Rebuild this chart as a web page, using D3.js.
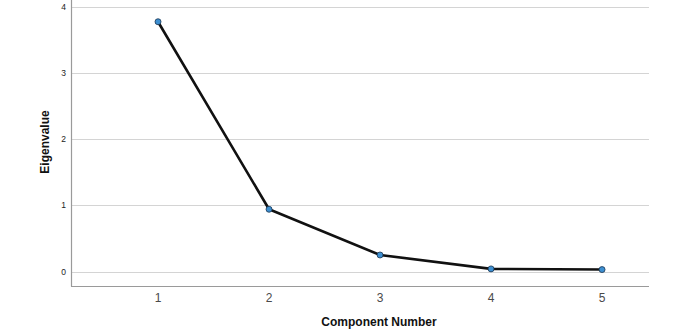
<!DOCTYPE html>
<html>
<head>
<meta charset="utf-8">
<script src="https://cdn.jsdelivr.net/npm/d3@7"></script>
<style>
  body { margin: 0; background: #fff; }
  svg { display: block; font-family: Arial, "Liberation Sans", sans-serif; }
  .grid line { stroke: #d4d4d4; stroke-width: 1.2px; }
  .axis-line { stroke: #9a9a9a; stroke-width: 1.2px; }
  .ytick { font-size: 8.5px; fill: #222; }
  .xtick { font-size: 12px; fill: #4a4a4a; }
  .title { font-size: 12px; font-weight: bold; fill: #111; }
</style>
</head>
<body>
<svg id="chart" width="683" height="333"></svg>
<script>
// Scree plot values
const components = [1, 2, 3, 4, 5];
const eigenvalues = [3.77, 0.94, 0.25, 0.04, 0.03];
const yTicks = [0, 1, 2, 3, 4];

const svg = d3.select('#chart');
const plot = { left: 71, right: 649, top: 0, bottom: 286 };

const x = d3.scaleLinear().domain([0.216, 5.423]).range([plot.left, plot.right]);
const y = d3.scaleLinear().domain([-0.218, 4]).range([plot.bottom, 6.5]);

// horizontal gridlines
svg.append('g').attr('class', 'grid')
  .selectAll('line')
  .data(yTicks)
  .join('line')
  .attr('x1', plot.left)
  .attr('x2', plot.right)
  .attr('y1', d => Math.round(y(d)) + 0.5)
  .attr('y2', d => Math.round(y(d)) + 0.5);

// axis frame (left + bottom)
svg.append('line').attr('class', 'axis-line')
  .attr('x1', plot.left + 0.5).attr('x2', plot.left + 0.5)
  .attr('y1', plot.top).attr('y2', plot.bottom + 0.5);
svg.append('line').attr('class', 'axis-line')
  .attr('x1', plot.left).attr('x2', plot.right)
  .attr('y1', plot.bottom + 0.5).attr('y2', plot.bottom + 0.5);

// y tick labels
svg.append('g')
  .selectAll('text')
  .data(yTicks)
  .join('text')
  .attr('class', 'ytick')
  .attr('x', plot.left - 5)
  .attr('y', d => y(d) + 3)
  .attr('text-anchor', 'end')
  .text(d => d);

// x tick labels
svg.append('g')
  .selectAll('text')
  .data(components)
  .join('text')
  .attr('class', 'xtick')
  .attr('x', d => x(d))
  .attr('y', 302)
  .attr('text-anchor', 'middle')
  .text(d => d);

// axis titles
svg.append('text').attr('class', 'title')
  .attr('x', 379).attr('y', 326)
  .attr('text-anchor', 'middle')
  .text('Component Number');
svg.append('text').attr('class', 'title')
  .attr('transform', 'translate(49,142) rotate(-90)')
  .attr('text-anchor', 'middle')
  .text('Eigenvalue');

const pts = components.map((c, i) => ({ c, v: eigenvalues[i] }));

svg.append('path')
  .datum(pts)
  .attr('fill', 'none')
  .attr('stroke', '#111')
  .attr('stroke-width', 2.6)
  .attr('stroke-linejoin', 'round')
  .attr('d', d3.line().x(d => x(d.c)).y(d => y(d.v)));

svg.append('g')
  .selectAll('circle')
  .data(pts)
  .join('circle')
  .attr('cx', d => x(d.c))
  .attr('cy', d => y(d.v))
  .attr('r', 3)
  .attr('fill', '#3d8fd1')
  .attr('stroke', '#1b3550')
  .attr('stroke-width', 0.8);
</script>
</body>
</html>
